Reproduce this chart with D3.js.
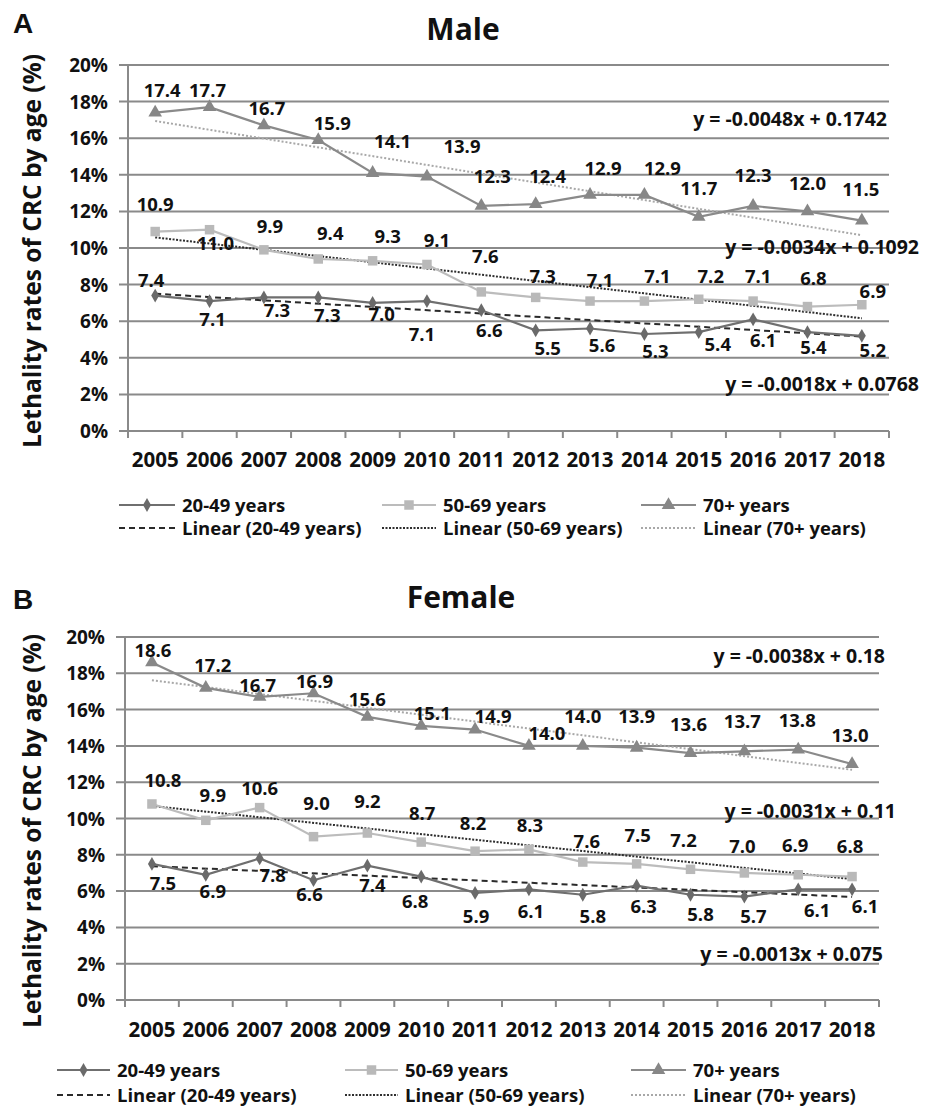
<!DOCTYPE html>
<html>
<head>
<meta charset="utf-8">
<script src="https://cdn.jsdelivr.net/npm/d3@7"></script>
<style>
  body { margin: 0; background: #fff; }
  text { font-family: "Open Sans", "DejaVu Sans", sans-serif; font-weight: bold; fill: #111; }
</style>
</head>
<body>
<div id="chart"></div>
<script>
// ---- data ----
const years = ["2005","2006","2007","2008","2009","2010","2011","2012","2013","2014","2015","2016","2017","2018"];
const yTicks = [0, 2, 4, 6, 8, 10, 12, 14, 16, 18, 20];
const seriesNames = ["20-49 years", "50-69 years", "70+ years"];

// lethality rates (%) - male
const male2049 = [7.4, 7.1, 7.3, 7.3, 7.0, 7.1, 6.6, 5.5, 5.6, 5.3, 5.4, 6.1, 5.4, 5.2];
const male5069 = [10.9, 11.0, 9.9, 9.4, 9.3, 9.1, 7.6, 7.3, 7.1, 7.1, 7.2, 7.1, 6.8, 6.9];
const male70 = [17.4, 17.7, 16.7, 15.9, 14.1, 13.9, 12.3, 12.4, 12.9, 12.9, 11.7, 12.3, 12.0, 11.5];

// lethality rates (%) - female
const female2049 = [7.5, 6.9, 7.8, 6.6, 7.4, 6.8, 5.9, 6.1, 5.8, 6.3, 5.8, 5.7, 6.1, 6.1];
const female5069 = [10.8, 9.9, 10.6, 9.0, 9.2, 8.7, 8.2, 8.3, 7.6, 7.5, 7.2, 7.0, 6.9, 6.8];
const female70 = [18.6, 17.2, 16.7, 16.9, 15.6, 15.1, 14.9, 14.0, 14.0, 13.9, 13.6, 13.7, 13.8, 13.0];

// linear trend coefficients [slope, intercept] as printed on the chart (x = 1..14)
const maleTrend = [[-0.0018, 0.0768], [-0.0034, 0.1092], [-0.0048, 0.1742]];
const femaleTrend = [[-0.0013, 0.075], [-0.0031, 0.11], [-0.0038, 0.18]];
const maleEquations = ["y = -0.0018x + 0.0768", "y = -0.0034x + 0.1092", "y = -0.0048x + 0.1742"];
const femaleEquations = ["y = -0.0013x + 0.075", "y = -0.0031x + 0.11", "y = -0.0038x + 0.18"];

// ---- label nudges (layout only, px) ----
const maleLabelDy = [
  [-9, 25, 20, 25, 18, 40, 27, 25, 23, 24, 19, 28, 22, 21],
  [-21, 20, -17, -19, -18, -17, -29, -14, -14, -18, -16, -18, -22, -7],
  [-16, -10, -10, -10, -25, -24, -23, -21, -20, -20, -22, -24, -21, -25]
];
const maleLabelDx = [
  [-4, 3, 13, 9, 9, -5, 8, 12, 12, 11, 19, 10, 6, 11],
  [0, 6, 6, 12, 15, 10, 4, 7, 10, 13, 12, 5, 6, 11],
  [7, -2, 3, 14, 20, 35, 11, 12, 13, 18, 0, 0, 0, -1]
];
const femaleLabelDy = [
  [26, 23, 24, 21, 26, 31, 30, 29, 28, 27, 26, 26, 28, 24],
  [-17, -18, -13, -27, -25, -22, -21, -17, -14, -22, -22, -20, -23, -24],
  [-5, -16, -5, -5, -11, -6, -7, -6, -23, -25, -22, -23, -23, -22]
];
const femaleLabelDx = [
  [11, 7, 13, -4, 5, -6, 1, 2, 10, 7, 10, 9, 19, 13],
  [11, 7, 0, 3, 0, 1, -2, 1, 4, 1, -7, -2, -3, -2],
  [1, 7, -2, 1, 0, 11, 18, 18, 0, 0, -2, -2, -1, -2]
];

// ---- styles ----
const gridColor = "#8a8a8a";
const lineColors = ["#6f6f6f", "#bcbcbc", "#8a8a8a"];
const markerColors = ["#6a6a6a", "#b9b9b9", "#878787"];
const markerTypes = [d3.symbolDiamond, d3.symbolSquare, d3.symbolTriangle];
const markerSizes = [55, 90, 80];
const trendColors = ["#2a2a2a", "#2e2e2e", "#a8a8a8"];
const trendDash = ["6,4", "2,1.5", "2,2"];

const svg = d3.select("#chart").append("svg")
  .attr("width", 932)
  .attr("height", 1107);

const panels = [
  {
    letter: "A", title: "Male",
    values: [male2049, male5069, male70], trend: maleTrend, eq: maleEquations,
    dx: maleLabelDx, dy: maleLabelDy,
    x0: 128, x1: 889, yTop: 65, yBottom: 431,
    titleX: 463, titleY: 40, letterY: 33, yTitleY: 251, xLabelY: 467,
    eqPos: [[919, 391], [919, 254], [887, 126]],
    legendRows: [505, 528], legendCols: [[119, 175, 182], [382, 436, 443], [641, 696, 703]]
  },
  {
    letter: "B", title: "Female",
    values: [female2049, female5069, female70], trend: femaleTrend, eq: femaleEquations,
    dx: femaleLabelDx, dy: femaleLabelDy,
    x0: 125, x1: 879, yTop: 637, yBottom: 1000,
    titleX: 461, titleY: 608, letterY: 609, yTitleY: 831, xLabelY: 1037,
    eqPos: [[883, 961], [896, 818], [885, 663]],
    legendRows: [1070, 1095], legendCols: [[57, 110, 117], [345, 398, 405], [631, 686, 693]]
  }
];

panels.forEach(drawPanel);

function drawPanel(p) {
  const g = svg.append("g");

  const x = d3.scaleBand().domain(years).range([p.x0, p.x1]).padding(0);
  const cx = d => x(d) + x.bandwidth() / 2;
  const y = d3.scaleLinear().domain([0, 20]).range([p.yBottom, p.yTop]);

  // panel letter and title
  g.append("text").attr("x", 13).attr("y", p.letterY)
    .style("font-family", "Liberation Sans, Arial, sans-serif")
    .style("font-size", "28px").text(p.letter);
  g.append("text").attr("x", p.titleX).attr("y", p.titleY)
    .attr("text-anchor", "middle").style("font-size", "30px").text(p.title);

  // y axis title
  g.append("text")
    .attr("transform", `translate(41,${p.yTitleY}) rotate(-90)`)
    .attr("text-anchor", "middle").style("font-size", "24.5px")
    .text("Lethality rates of CRC by age (%)");

  // gridlines + y ticks
  g.selectAll("line.grid").data(yTicks).join("line")
    .attr("class", "grid")
    .attr("x1", p.x0 - 9).attr("x2", p.x1)
    .attr("y1", d => y(d)).attr("y2", d => y(d))
    .attr("stroke", gridColor).attr("stroke-width", 2);
  g.selectAll("text.ytick").data(yTicks).join("text")
    .attr("class", "ytick")
    .attr("x", p.x0 - 20).attr("y", d => y(d) + 7)
    .attr("text-anchor", "end").style("font-size", "19px")
    .text(d => d + "%");

  // y axis line
  g.append("line").attr("x1", p.x0).attr("x2", p.x0)
    .attr("y1", p.yTop).attr("y2", p.yBottom)
    .attr("stroke", gridColor).attr("stroke-width", 2);

  // x tick marks at band edges
  const edges = years.map(d => x(d)).concat([p.x1]);
  g.selectAll("line.xtick").data(edges).join("line")
    .attr("class", "xtick")
    .attr("x1", d => d).attr("x2", d => d)
    .attr("y1", p.yBottom).attr("y2", p.yBottom + 7)
    .attr("stroke", gridColor).attr("stroke-width", 2);
  g.selectAll("text.xlab").data(years).join("text")
    .attr("class", "xlab")
    .attr("x", d => cx(d)).attr("y", p.xLabelY)
    .attr("text-anchor", "middle").style("font-size", "20.5px")
    .text(d => d);

  // trendlines (Excel linear fit, x = 1..14)
  p.trend.forEach((c, s) => {
    const first = years[0], last = years[years.length - 1];
    g.append("line")
      .attr("x1", cx(first)).attr("y1", y((c[0] * 1 + c[1]) * 100))
      .attr("x2", cx(last)).attr("y2", y((c[0] * years.length + c[1]) * 100))
      .attr("stroke", trendColors[s]).attr("stroke-width", 2)
      .attr("stroke-dasharray", trendDash[s]);
  });

  // series lines and markers
  const line = d3.line().x((d, i) => cx(years[i])).y(d => y(d));
  [2, 1, 0].forEach(s => {
    const vals = p.values[s];
    g.append("path").datum(vals)
      .attr("d", line).attr("fill", "none")
      .attr("stroke", lineColors[s]).attr("stroke-width", 2.2);
    g.selectAll("path.m" + s).data(vals).join("path")
      .attr("class", "m" + s)
      .attr("transform", (d, i) => `translate(${cx(years[i])},${y(d)})`)
      .attr("d", d3.symbol().type(markerTypes[s]).size(markerSizes[s]))
      .attr("fill", markerColors[s]);
  });

  // data labels
  [0, 1, 2].forEach(s => {
    g.selectAll("text.l" + s).data(p.values[s]).join("text")
      .attr("class", "l" + s)
      .attr("x", (d, i) => cx(years[i]) + p.dx[s][i])
      .attr("y", (d, i) => y(d) + p.dy[s][i])
      .attr("text-anchor", "middle").style("font-size", "18.5px")
      .text(d => d.toFixed(1));
  });

  // trend equations
  p.eq.forEach((t, s) => {
    g.append("text").attr("x", p.eqPos[s][0]).attr("y", p.eqPos[s][1])
      .attr("text-anchor", "end").style("font-size", "19.5px").text(t);
  });

  // legend
  seriesNames.forEach((name, s) => {
    const [lx0, lx1, tx] = p.legendCols[s];
    const r1 = p.legendRows[0], r2 = p.legendRows[1];
    g.append("line").attr("x1", lx0).attr("x2", lx1).attr("y1", r1).attr("y2", r1)
      .attr("stroke", lineColors[s]).attr("stroke-width", 2.2);
    g.append("path")
      .attr("transform", `translate(${(lx0 + lx1) / 2},${r1})`)
      .attr("d", d3.symbol().type(markerTypes[s]).size(markerSizes[s]))
      .attr("fill", markerColors[s]);
    g.append("text").attr("x", tx).attr("y", r1 + 7)
      .style("font-size", "18.5px").text(name);

    g.append("line").attr("x1", lx0).attr("x2", lx1).attr("y1", r2).attr("y2", r2)
      .attr("stroke", trendColors[s]).attr("stroke-width", 2)
      .attr("stroke-dasharray", trendDash[s]);
    g.append("text").attr("x", tx).attr("y", r2 + 7)
      .style("font-size", "18.5px").text("Linear (" + name + ")");
  });
}
</script>
</body>
</html>
